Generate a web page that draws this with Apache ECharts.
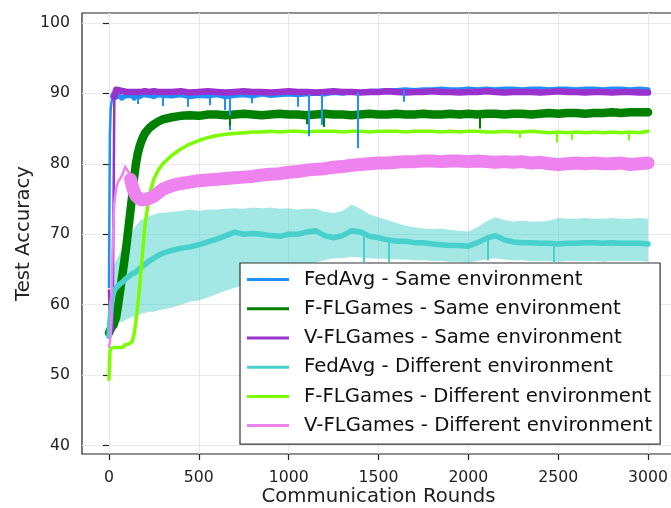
<!DOCTYPE html>
<html><head><meta charset="utf-8">
<script src="https://cdn.jsdelivr.net/npm/echarts@6/dist/echarts.min.js"></script>
<style>html,body{margin:0;padding:0;background:#fff}#c{width:671px;height:508px}</style>
</head><body><div id="c"></div>
<script>
const rounds = [0,5,10,15,20,25,30,40,50,60,70,80,90,100,110,120,130,140,150,160,170,180,190,200,225,250,275,300,
350,400,450,500,550,600,650,700,750,800,850,900,950,1000,1050,1100,1150,1200,1250,1300,1350,1400,1450,1500,1550,1600,1650,1700,1750,1800,1850,1900,1950,2000,2050,2100,2150,2200,2250,2300,2350,2400,2450,2500,2550,2600,2650,2700,2750,2800,2850,2900,2950,3000];

const fedAvgSame = [62.5,84.0,88.0,88.8,89.6,89.9,89.7,89.5,89.4,89.6,89.3,89.5,89.6,89.4,89.7,89.5,89.6,89.3,89.6,89.7,89.5,89.6,89.8,89.6,89.7,89.5,89.8,89.7,
89.6,89.8,89.5,89.7,89.6,89.8,89.5,89.7,89.8,89.6,
89.9,89.7,89.8,89.9,89.8,89.9,90.0,89.9,90.1,90.0,
90.2,90.1,90.3,90.3,90.4,90.4,90.5,90.4,90.5,90.5,
90.6,90.5,90.5,90.6,90.5,90.6,90.5,90.6,90.6,90.5,
90.6,90.6,90.5,90.6,90.6,90.5,90.6,90.6,90.5,90.6,
90.6,90.5,90.6,90.5];

const fFLGamesSame = [56.0,56.3,56.5,56.8,57.0,57.1,57.3,58.2,59.8,61.6,63.4,65.2,67.0,69.0,71.2,73.4,75.6,78.0,80.0,81.4,82.4,83.2,83.8,84.3,85.1,85.6,86.0,86.3,
86.6,86.8,86.9,86.8,87.0,87.0,86.9,87.0,87.1,87.0,
86.9,87.0,87.1,87.0,87.0,86.9,87.0,87.1,87.0,87.0,
86.9,87.0,87.1,87.0,87.0,87.1,87.0,87.0,87.1,87.0,
87.0,87.1,87.0,87.1,87.0,87.1,87.1,87.0,87.1,87.1,
87.0,87.1,87.2,87.1,87.2,87.2,87.1,87.2,87.2,87.3,
87.2,87.3,87.3,87.3];

const vFLGamesSame = [62.0,58.0,55.8,56.0,56.5,72.0,89.5,90.5,90.3,90.4,90.2,90.3,90.4,90.2,90.3,90.2,90.3,90.2,90.3,90.2,90.3,90.2,90.2,90.3,90.2,90.3,90.2,90.2,
90.2,90.3,90.1,90.2,90.3,90.2,90.1,90.2,90.3,90.2,
90.2,90.1,90.2,90.3,90.2,90.2,90.1,90.2,90.3,90.2,
90.2,90.1,90.2,90.2,90.3,90.2,90.1,90.2,90.2,90.3,
90.2,90.2,90.1,90.2,90.2,90.3,90.2,90.1,90.2,90.2,
90.2,90.1,90.2,90.3,90.2,90.2,90.1,90.2,90.2,90.1,
90.2,90.2,90.1,90.1];

const fedAvgDiff = [55.5,57.5,59.0,60.2,61.0,61.6,62.0,62.4,62.6,62.9,63.1,63.3,63.6,63.8,64.0,64.1,64.4,64.3,64.6,64.9,65.1,65.3,65.5,65.7,66.2,66.6,67.0,67.3,
67.7,68.0,68.2,68.5,68.9,69.3,69.8,70.3,70.0,70.1,
70.0,69.8,69.7,70.0,70.0,70.3,70.5,69.8,69.5,69.8,
70.5,70.3,69.7,69.5,69.2,69.0,69.0,68.8,68.8,68.6,
68.5,68.4,68.4,68.3,68.8,69.4,69.8,69.2,68.9,68.8,
68.8,68.7,68.7,68.6,68.7,68.7,68.8,68.8,68.7,68.8,
68.7,68.7,68.7,68.6];
const fedAvgDiffUpper = [56.0,59.5,61.5,63.5,64.5,65.2,65.8,66.3,66.8,67.2,67.6,68.0,68.5,69.0,69.5,70.0,70.4,70.8,71.2,71.5,71.8,72.0,72.2,72.4,72.6,72.8,73.0,73.0,
73.2,73.3,73.5,73.3,73.5,73.5,73.6,73.7,73.6,73.8,
73.7,73.8,73.6,73.7,73.5,73.6,73.6,73.2,73.0,73.3,
74.2,73.6,72.8,72.4,72.0,71.6,71.2,71.0,70.8,70.7,
70.8,70.6,70.5,70.4,71.0,71.8,72.4,72.0,71.8,71.9,
71.8,71.8,71.9,72.3,72.2,72.2,72.3,72.2,72.2,72.3,
72.2,72.2,72.3,72.2];
const fedAvgDiffLower = [54.0,55.0,56.0,57.0,57.5,57.8,58.0,58.0,57.8,57.6,57.5,57.6,57.8,58.0,58.0,58.2,58.2,58.4,58.5,58.5,58.6,58.7,58.8,58.8,59.0,59.0,59.2,59.3,
59.6,60.0,60.4,60.6,61.0,61.5,62.0,62.4,62.8,63.2,
63.6,64.0,64.4,64.8,65.2,65.6,66.0,66.3,66.6,66.6,
66.8,66.7,66.6,66.5,66.5,66.4,66.4,66.3,66.3,66.2,
66.2,66.1,66.1,66.0,66.2,66.4,66.6,66.4,66.3,66.3,
66.2,66.2,66.2,66.1,66.2,66.2,66.2,66.2,66.1,66.2,
66.2,66.2,66.2,66.1];

const fFLGamesDiff = [49.4,53.2,53.8,54.0,53.8,53.9,53.8,53.9,54.0,53.9,54.1,54.0,54.3,54.2,54.4,54.5,54.8,55.8,57.6,59.8,62.4,65.3,68.3,71.2,75.6,77.8,79.1,80.0,
81.2,82.1,82.8,83.3,83.7,84.0,84.2,84.3,84.4,84.5,
84.5,84.6,84.5,84.6,84.6,84.5,84.6,84.6,84.6,84.5,
84.6,84.6,84.5,84.6,84.6,84.6,84.5,84.6,84.6,84.6,
84.5,84.6,84.5,84.6,84.6,84.5,84.5,84.6,84.5,84.5,
84.6,84.5,84.4,84.5,84.4,84.5,84.4,84.5,84.4,84.5,
84.4,84.5,84.4,84.6];

const vFLGamesDiff = [54.0,54.5,56.0,62.0,67.5,71.5,74.5,76.5,77.4,77.8,78.2,78.8,79.6,79.8,78.8,77.8,76.8,76.0,75.5,75.2,75.0,74.9,74.8,74.9,75.1,75.4,75.9,76.4,
76.9,77.2,77.4,77.6,77.7,77.8,77.9,78.0,78.1,78.2,
78.4,78.5,78.6,78.8,78.9,79.1,79.2,79.3,79.5,79.6,
79.8,79.9,80.0,80.1,80.1,80.2,80.3,80.3,80.4,80.4,
80.3,80.4,80.4,80.3,80.4,80.3,80.2,80.3,80.2,80.3,
80.1,80.2,80.0,79.9,80.0,80.1,80.0,80.1,80.0,80.0,
80.1,79.9,80.0,80.1];

const fedAvgSameDipRounds = [163,302,441,560,646,670,794,1052,1110,1184,1383,1639];
const fedAvgSameDipValues = [88.5,88.2,88.1,88.3,87.6,84.8,88.6,88.1,83.9,85.5,82.2,88.8];
const fFLGamesSameDipRounds = [674,1100,1195,2066];
const fFLGamesSameDipValues = [85.4,85.6,85.2,85.0];
const fFLGamesDiffDipRounds = [2288,2493,2576,2892];
const fFLGamesDiffDipValues = [83.7,83.0,83.4,83.3];
const fedAvgDiffDipRounds = [1416,1555,2110,2473];
const fedAvgDiffDipValues = [66.0,66.0,66.3,66.0];

const xTicks = [0,500,1000,1500,2000,2500,3000];
const yTicks = [40,50,60,70,80,90,100];

const names = ['FedAvg - Same environment','F-FLGames - Same environment','V-FLGames - Same environment',
  'FedAvg - Different environment','F-FLGames - Different environment','V-FLGames - Different environment'];
const colors = ['#1E90FF','#008000','#9932CC','#48D1CC','#7CFC00','#EE82EE'];

const FONT = 'DejaVu Sans';
function pts(vals, from, to) {
  const end = to === undefined ? rounds.length : to;
  const out = [];
  for (let i = from; i < end; i++) out.push([rounds[i], vals[i]]);
  return out;
}
function nearest(vals, r) {
  let bi = 0, bd = Infinity;
  rounds.forEach((x, i) => { const d = Math.abs(x - r); if (d < bd) { bd = d; bi = i; } });
  return vals[bi];
}
function dips(vals, rs, vs, color) {
  return {
    silent: true, symbol: ['none','none'], label: {show: false},
    lineStyle: {color: color, width: 2, type: 'solid', opacity: 1},
    emphasis: {disabled: true},
    data: rs.map((r, i) => [{coord: [r, nearest(vals, r)]}, {coord: [r, vs[i]]}])
  };
}
function line(name, color, data, width, extra) {
  return Object.assign({
    type: 'line', name: name, data: data, color: color, showSymbol: false, symbol: 'none',
    lineStyle: {width: width, color: color, join: 'round', cap: 'round'},
    silent: true, animation: false, z: 3
  }, extra || {});
}
function band(lower, upper, fill) {
  return {
    type: 'custom', name: 'band', silent: true, z: 2, clip: true,
    data: rounds.map((r, i) => [r, lower[i], upper[i]]),
    encode: {x: 0, y: [1, 2]},
    renderItem: function (params, api) {
      if (params.dataIndex !== 0) return null;
      const top = [], bot = [];
      for (let i = 0; i < rounds.length; i++) {
        top.push(api.coord([rounds[i], upper[i]]));
        bot.push(api.coord([rounds[i], lower[i]]));
      }
      return {type: 'polygon', shape: {points: top.concat(bot.reverse())}, style: {fill: fill}};
    }
  };
}

const series = [
  band(fedAvgDiffLower, fedAvgDiffUpper, 'rgba(72,209,204,0.5)'),
  line(names[0], colors[0], pts(fedAvgSame, 0, 5), 2.5),
  line(names[0], colors[0], pts(fedAvgSame, 4), 5, {markLine: dips(fedAvgSame, fedAvgSameDipRounds, fedAvgSameDipValues, colors[0])}),
  line(names[1], colors[1], pts(fFLGamesSame, 0), 8.5, {markLine: dips(fFLGamesSame, fFLGamesSameDipRounds, fFLGamesSameDipValues, colors[1])}),
  line(names[2], colors[2], pts(vFLGamesSame, 0, 7), 2.5),
  line(names[2], colors[2], pts(vFLGamesSame, 6), 6.5),
  line(names[3], colors[3], pts(fedAvgDiff, 0), 5.5, {markLine: dips(fedAvgDiff, fedAvgDiffDipRounds, fedAvgDiffDipValues, colors[3])}),
  line(names[4], colors[4], pts(fFLGamesDiff, 0), 3.5, {markLine: dips(fFLGamesDiff, fFLGamesDiffDipRounds, fFLGamesDiffDipValues, colors[4])}),
  line(names[5], colors[5], pts(vFLGamesDiff, 0, 17), 2.5),
  line(names[5], colors[5], pts(vFLGamesDiff, 15), 13)
];

const chart = echarts.init(document.getElementById('c'), null, {renderer: 'canvas'});
chart.setOption({
  animation: false,
  backgroundColor: '#ffffff',
  grid: {left: 82, top: 13, width: 593, height: 441, show: true, borderColor: '#222', borderWidth: 1.2,
    backgroundColor: 'transparent', containLabel: false, outerBoundsMode: 'none'},
  xAxis: {
    type: 'value', min: -150, max: 3150, splitNumber: 6,
    axisLine: {show: false},
    axisTick: {show: true, customValues: xTicks, length: 6, lineStyle: {color: '#222', width: 1.2}},
    axisLabel: {customValues: xTicks, margin: 16, fontSize: 15.7, color: '#222', fontFamily: FONT,
      formatter: function (v) { return String(v); }},
    splitLine: {show: true, lineStyle: {color: '#e8e8e8', width: 1}},
    name: 'Communication Rounds', nameLocation: 'middle', nameGap: 33, nameMoveOverlap: false,
    nameTextStyle: {fontSize: 19.7, color: '#222', fontFamily: FONT}
  },
  yAxis: {
    type: 'value', min: 38.8, max: 101.4, splitNumber: 6,
    axisLine: {show: false},
    axisTick: {show: true, customValues: yTicks, length: 6, lineStyle: {color: '#222', width: 1.2}},
    axisLabel: {customValues: yTicks, margin: 12, fontSize: 15.7, color: '#222', fontFamily: FONT,
      formatter: function (v) { return String(v); }},
    splitLine: {show: true, lineStyle: {color: '#e8e8e8', width: 1}},
    name: 'Test Accuracy', nameLocation: 'middle', nameGap: 48, nameRotate: 90, nameMoveOverlap: false,
    nameTextStyle: {fontSize: 19.7, color: '#222', fontFamily: FONT}
  },
  legend: {
    data: names, orient: 'vertical', left: 240, top: 263,
    itemWidth: 42, itemHeight: 3, itemGap: 0, icon: 'rect',
    padding: [2, 8, 4, 7], backgroundColor: 'rgba(255,255,255,0.92)',
    borderColor: '#333', borderWidth: 1.2, borderRadius: 0,
    selectedMode: false,
    textStyle: {fontSize: 19.7, fontFamily: FONT, color: '#111', lineHeight: 29.2, padding: [0, 0, 0, 10]}
  },
  series: series
});
</script>
</body></html>
